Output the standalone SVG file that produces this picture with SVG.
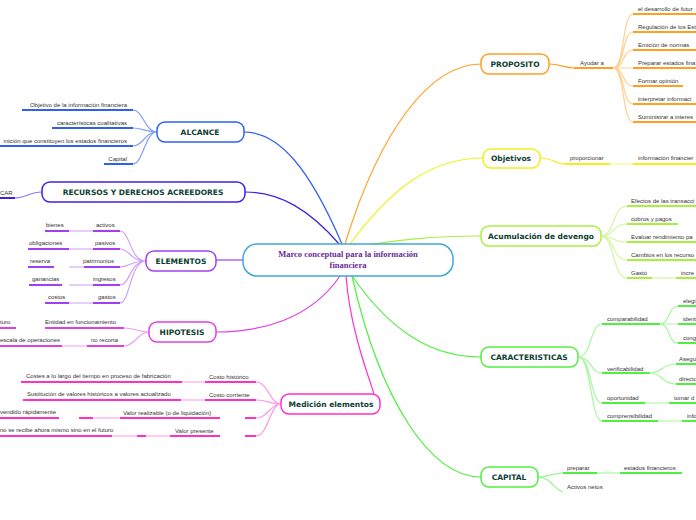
<svg xmlns="http://www.w3.org/2000/svg" width="696" height="520" viewBox="0 0 696 520">
<style>
text{font-family:"Liberation Sans",Arial,sans-serif;font-size:6px;fill:#333}
.n{font-family:"DejaVu Sans",Verdana,sans-serif;font-size:7.5px;font-weight:bold;fill:#0a4030;text-anchor:middle}
.c{fill:none;stroke-width:1.2}
.u{fill:none;stroke-width:2}
.nb{fill:#fff;stroke-width:1.5}
</style>
<rect width="696" height="520" fill="#fff"/>
<g id="connectors">
<g stroke="#ffa020">
<path class="c" d="M345,244 C380,130 430,64 481,64"/>
<path class="c" d="M549,64 C560,64 565,68 574,68"/>
<path class="u" d="M574,68 H613"/>
<path class="c" stroke-opacity="0.5" d="M613,68 C625,68 622,14 633,14 M613,68 C625,68 622,32 633,32 M613,68 C625,68 622,50 633,50 M613,68 H633 M613,68 C625,68 622,86 633,86 M613,68 C625,68 622,104 633,104 M613,68 C625,68 622,122 633,122"/>
<path class="u" d="M633,14H696M633,32H696M633,50H696M633,68H696M633,86H683M633,104H696M633,122H696"/>
</g>
<g stroke="#f0f020">
<path class="c" d="M350,244 C390,190 430,158 483,158"/>
<path class="c" d="M540,158 C552,158 556,164 565,164"/>
<path class="u" d="M565,164H610M633,164H696"/>
<path class="c" stroke-opacity="0.5" d="M610,164H633"/>
</g>
<g stroke="#a8f040">
<path class="c" d="M352,247 C400,240 430,236 481,236"/>
<path class="c" stroke-opacity="0.5" d="M601,236 C615,236 612,206 627,206 M601,236 C615,236 612,224 627,224 M601,236 C615,236 612,242 627,242 M601,236 C615,236 612,260 627,260 M601,236 C615,236 612,278 627,278"/>
<path class="u" d="M627,206H696M627,224H678M627,242H696M627,260H696M627,278H652M676,278H696"/>
<path class="c" stroke-opacity="0.5" d="M652,278H676"/>
</g>
<g stroke="#50f040">
<path class="c" d="M352,276 C390,330 430,357 481,357"/>
<path class="c" d="M352,276 C380,400 430,477 481,477"/>
<path class="c" stroke-opacity="0.5" d="M578,357 C592,357 590,324 602,324 M578,357 C592,357 590,373 602,373 M578,357 C592,357 590,403 602,403 M578,357 C592,357 590,421 602,421"/>
<path class="u" d="M602,324H660M602,373H650M602,403H645M669,403H696M602,421H658M682,421H696"/>
<path class="c" stroke-opacity="0.5" d="M660,324 C670,324 668,306 678,306 M660,324H678 M660,324 C670,324 668,343 678,343 M650,373 C662,373 662,364 676,364 M650,373 C662,373 662,384 676,384 M645,403H669M658,421H682"/>
<path class="u" d="M678,306H696M678,324H696M678,343H696M676,364H696M676,384H696"/>
<path class="c" stroke-opacity="0.6" d="M538,477 C550,477 552,473 563,473 M538,477 C550,477 555,490 563,492 M597,473H620"/>
<path class="u" d="M563,473H597M620,473H682"/>
</g>
<g stroke="#3060f0">
<path class="c" d="M342,244 C310,170 280,132 244,132"/>
<path class="c" stroke-opacity="0.6" d="M157,132 C145,132 143,110 133,110 M157,132 C145,132 143,128 133,128 M157,132 C145,132 143,146 133,146 M157,132 C145,132 143,164 133,164"/>
<path class="u" d="M22,110H133M52,128H133M0,146H133M104,164H133"/>
</g>
<g stroke="#4020e8">
<path class="c" d="M340,245 C310,210 280,192 245,192"/>
<path class="c" stroke-opacity="0.6" d="M42,192 C30,192 25,198 15,198"/>
<path class="u" d="M0,198H15"/>
</g>
<g stroke="#a040f0">
<path class="c" d="M243,260H216"/>
<path class="c" stroke-opacity="0.5" d="M146,261 C130,261 130,231 120,231 M146,261 C130,261 130,249 120,249 M146,261 C130,261 130,267 120,267 M146,261 C130,261 130,285 120,285 M146,261 C130,261 130,303 120,303 M69,231H93M69,249H93M69,267H84M69,285H93M69,303H93"/>
<path class="u" d="M93,231H120M93,249H120M84,267H120M93,285H120M93,303H120M45,231H69M28,249H69M28,267H54M29,285H62M45,303H69"/>
</g>
<g stroke="#e040e0">
<path class="c" d="M340,276 C310,320 260,332 216,332"/>
<path class="c" stroke-opacity="0.5" d="M149,332 C138,332 135,328 124,328 M149,332 C138,332 135,346 124,346 M62,346H87"/>
<path class="u" d="M45,328H124M87,346H124M0,346H62M0,328H16"/>
</g>
<g stroke="#ff30c8">
<path class="c" d="M346,276 C350,330 370,380 374,394"/>
<path class="c" stroke-opacity="0.5" d="M281,404 C270,404 268,382 256,382 M281,404 C270,404 268,400 256,400 M281,404 C270,404 268,418 256,418 M281,404 C270,404 268,436 256,436 M182,382H205M181,400H205M88,418H120M137,436H170M112,436H137"/>
<path class="u" d="M205,382H256M205,400H256M120,418H220M170,436H220M245,418H256M245,436H256M21,382H182M23,400H181M0,418H59M79,418H93M0,436H112M137,436H146"/>
</g>
</g>
<g id="center"><rect x="243" y="244" width="210" height="32" rx="14" fill="#fff" stroke="#40a8d8" stroke-width="1.5"/>
<text x="348" y="257" style="font-family:'Liberation Serif',serif;font-size:8.5px;font-weight:bold;fill:#6a2a9a;text-anchor:middle">Marco conceptual para la información</text>
<text x="348" y="268" style="font-family:'Liberation Serif',serif;font-size:8.5px;font-weight:bold;fill:#6a2a9a;text-anchor:middle">financiera</text></g>
<g id="proposito"><rect class="nb" x="481" y="54" width="68" height="20" rx="8" stroke="#ffa020"/><text class="n" x="515" y="67">PROPOSITO</text>
<text x="580" y="65">Ayudar a</text>
<text x="638" y="11">el desarrollo de futur</text><text x="638" y="29">Regulación de los Est</text><text x="638" y="47">Emición de normas</text><text x="638" y="65">Preparar estados fina</text><text x="638" y="83">Formar opinión</text><text x="638" y="101">interpretar informaci</text><text x="638" y="119">Suministrar a interes</text></g>
<g id="objetivos"><rect class="nb" x="483" y="149" width="57" height="19" rx="8" stroke="#f0f020"/><text class="n" x="511" y="161">Objetivos</text>
<text x="570" y="160">proporcionar</text><text x="638" y="160">información financier</text></g>
<g id="devengo"><rect class="nb" x="481" y="226" width="120" height="20" rx="8" stroke="#a8f040"/><text class="n" x="541" y="239">Acumulación de devengo</text>
<text x="631" y="203">Efectos de las transacci</text><text x="631" y="221">cobros y pagos</text><text x="631" y="239">Evaluar rendimiento pa</text><text x="631" y="257">Cambios en los recurso</text><text x="631" y="275">Gastó</text><text x="681" y="275">incre</text></g>
<g id="caracteristicas"><rect class="nb" x="481" y="347" width="97" height="20" rx="8" stroke="#50f040"/><text class="n" x="529" y="360">CARACTERISTICAS</text>
<text x="607" y="321">comparabilidad</text><text x="683" y="303">elegi</text><text x="683" y="321">identi</text><text x="683" y="340">cong</text>
<text x="607" y="371">verificabilidad</text><text x="679" y="361">Asegu</text><text x="679" y="381">directo</text>
<text x="607" y="400">oportunidad</text><text x="674" y="400">tomar d</text><text x="607" y="418">comprensibilidad</text><text x="687" y="418">info</text></g>
<g id="capital"><rect class="nb" x="481" y="467" width="57" height="20" rx="8" stroke="#50f040"/><text class="n" x="509" y="480">CAPITAL</text>
<text x="567" y="470">preparar</text><text x="624" y="470">estados financieros</text><text x="567" y="489">Activos netos</text></g>
<g id="alcance"><rect class="nb" x="157" y="122" width="87" height="20" rx="8" stroke="#3060f0"/><text class="n" x="200" y="135">ALCANCE</text>
<g style="text-anchor:end"><text x="127" y="107">Objetivo de la información financiera</text><text x="127" y="125">características cualitativas</text><text x="127" y="143">inición que constituyen los estados financieros</text><text x="127" y="161">Capital</text></g></g>
<g id="recursos"><rect class="nb" x="42" y="182" width="203" height="20" rx="8" stroke="#4020e8"/><text class="n" x="143" y="195">RECURSOS Y DERECHOS  ACREEDORES</text><text x="0" y="195">CAR</text></g>
<g id="elementos"><rect class="nb" x="146" y="251" width="70" height="20" rx="8" stroke="#a040f0"/><text class="n" x="181" y="264">ELEMENTOS</text>
<text x="46" y="227">bienes</text><text x="96" y="227">activos</text><text x="29" y="245">obligaciones</text><text x="95" y="245">pasivos</text><text x="30" y="263">reserva</text><text x="83" y="263">patrimonios</text><text x="32" y="281">ganancias</text><text x="93" y="281">ingresos</text><text x="48" y="299">costos</text><text x="98" y="299">gastos</text></g>
<g id="hipotesis"><rect class="nb" x="149" y="322" width="67" height="20" rx="8" stroke="#e040e0"/><text class="n" x="182" y="335">HIPOTESIS</text>
<text x="0" y="324">turo</text><text x="45" y="324">Entidad en funcionamiento</text><text x="0" y="342">escala de operaciones</text><text x="91" y="342">no recorta</text></g>
<g id="medicion"><rect class="nb" x="281" y="394" width="99" height="20" rx="8" stroke="#ff30c8"/><text class="n" x="331" y="407">Medición elementos</text>
<text x="26" y="378">Costes a lo largo del tiempo en  proceso de fabricación</text><text x="209" y="379">Costo histórico</text>
<text x="27" y="396">Sustitución de valores históricos a valores actualizado</text><text x="209" y="397">Costo corriente</text>
<text x="0" y="414">vendido rápidamente</text><text x="123" y="415">Valor realizable (o de liquidación)</text>
<text x="0" y="432">no se recibe ahora mismo sino en el futuro</text><text x="175" y="433">Valor presente</text></g>
</svg>
